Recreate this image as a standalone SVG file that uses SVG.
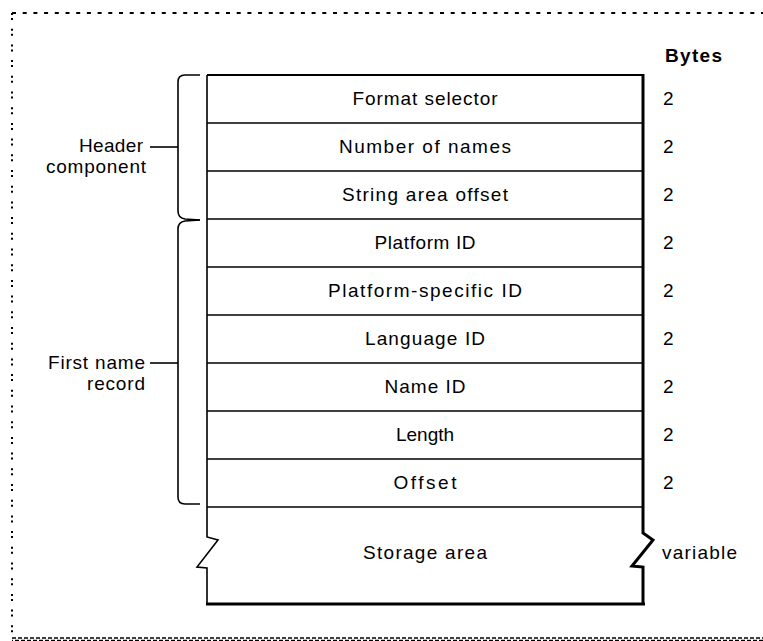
<svg xmlns="http://www.w3.org/2000/svg" width="763" height="641" viewBox="0 0 763 641">
<style>
.t{font-family:"Liberation Sans",Arial,sans-serif;font-size:19px;fill:#000}
.c{text-anchor:middle}
.r{text-anchor:end}
.b{font-weight:bold}
.ln{stroke:#000;fill:none;stroke-width:1.6}
.thick{stroke:#000;fill:none;stroke-width:3}
</style>
<rect x="0" y="0" width="763" height="641" fill="#fff"/>
<g id="frame">
<line x1="12" y1="13" x2="763" y2="13" stroke="#000" stroke-width="2" stroke-dasharray="4 6.7"/>
<line x1="12" y1="13" x2="12" y2="639" stroke="#000" stroke-width="2" stroke-dasharray="2 3 2 8.7"/>
<line x1="12" y1="638" x2="763" y2="638" stroke="#000" stroke-width="1.5" stroke-dasharray="4 2"/>
<line x1="12" y1="640.5" x2="763" y2="640.5" stroke="#000" stroke-width="1.5" stroke-dasharray="4 2" stroke-dashoffset="3"/>
</g>
<g id="box">
<line x1="207" y1="75" x2="644" y2="75" stroke="#000" stroke-width="2"/>
<path class="ln" d="M207,75 V537 L218,540 L197,567 L207,568 V604" stroke-width="2"/>
<path class="thick" d="M643,74 V533 L653,540 L632,566 L643,567 V605"/>
<line x1="206" y1="604" x2="645" y2="604" stroke="#000" stroke-width="3"/>
</g>
<g id="row-format-selector">
<line class="ln" x1="207" y1="123" x2="643" y2="123"/>
<text class="t c" x="425" y="105" textLength="145" lengthAdjust="spacing">Format selector</text>
<text class="t" x="663" y="105">2</text>
</g>
<g id="row-number-of-names">
<line class="ln" x1="207" y1="171" x2="643" y2="171"/>
<text class="t c" x="425" y="153" textLength="172" lengthAdjust="spacing">Number of names</text>
<text class="t" x="663" y="153">2</text>
</g>
<g id="row-string-area-offset">
<line class="ln" x1="207" y1="219" x2="643" y2="219"/>
<text class="t c" x="425" y="201" textLength="166" lengthAdjust="spacing">String area offset</text>
<text class="t" x="663" y="201">2</text>
</g>
<g id="row-platform-id">
<line class="ln" x1="207" y1="267" x2="643" y2="267"/>
<text class="t c" x="425" y="249" textLength="101" lengthAdjust="spacing">Platform ID</text>
<text class="t" x="663" y="249">2</text>
</g>
<g id="row-platform-specific-id">
<line class="ln" x1="207" y1="315" x2="643" y2="315"/>
<text class="t c" x="425" y="297" textLength="194" lengthAdjust="spacing">Platform-specific ID</text>
<text class="t" x="663" y="297">2</text>
</g>
<g id="row-language-id">
<line class="ln" x1="207" y1="363" x2="643" y2="363"/>
<text class="t c" x="425" y="345" textLength="120" lengthAdjust="spacing">Language ID</text>
<text class="t" x="663" y="345">2</text>
</g>
<g id="row-name-id">
<line class="ln" x1="207" y1="411" x2="643" y2="411"/>
<text class="t c" x="425" y="393" textLength="81" lengthAdjust="spacing">Name ID</text>
<text class="t" x="663" y="393">2</text>
</g>
<g id="row-length">
<line class="ln" x1="207" y1="459" x2="643" y2="459"/>
<text class="t c" x="425" y="441" textLength="58" lengthAdjust="spacing">Length</text>
<text class="t" x="663" y="441">2</text>
</g>
<g id="row-offset">
<line class="ln" x1="207" y1="507" x2="643" y2="507"/>
<text class="t c" x="425" y="489" textLength="63" lengthAdjust="spacing">Offset</text>
<text class="t" x="663" y="489">2</text>
</g>
<g id="row-storage-area">
<text class="t c" x="425" y="559" textLength="124" lengthAdjust="spacing">Storage area</text>
<text class="t" x="662" y="559" textLength="75" lengthAdjust="spacing">variable</text>
</g>
<g id="bytes-header">
<text class="t b" x="665" y="62" textLength="57" lengthAdjust="spacing">Bytes</text>
</g>
<g id="label-header">
<text class="t r" x="143" y="152" textLength="64" lengthAdjust="spacing">Header</text>
<text class="t r" x="146" y="173" textLength="100" lengthAdjust="spacing">component</text>
</g>
<g id="label-first-name-record">
<text class="t r" x="145" y="369" textLength="97" lengthAdjust="spacing">First name</text>
<text class="t r" x="145" y="390" textLength="58" lengthAdjust="spacing">record</text>
</g>
<g id="connectors">
<path class="ln" d="M200,75 H185 Q178,75 178,82 V211 Q178,218 185,219 L200,220"/>
<path class="ln" d="M200,220 L185,221 Q178,222 178,229 V497 Q178,504 185,504 H200"/>
<line class="ln" x1="150" y1="147" x2="178" y2="147"/>
<line class="ln" x1="150" y1="363" x2="178" y2="363"/>
</g>
</svg>
